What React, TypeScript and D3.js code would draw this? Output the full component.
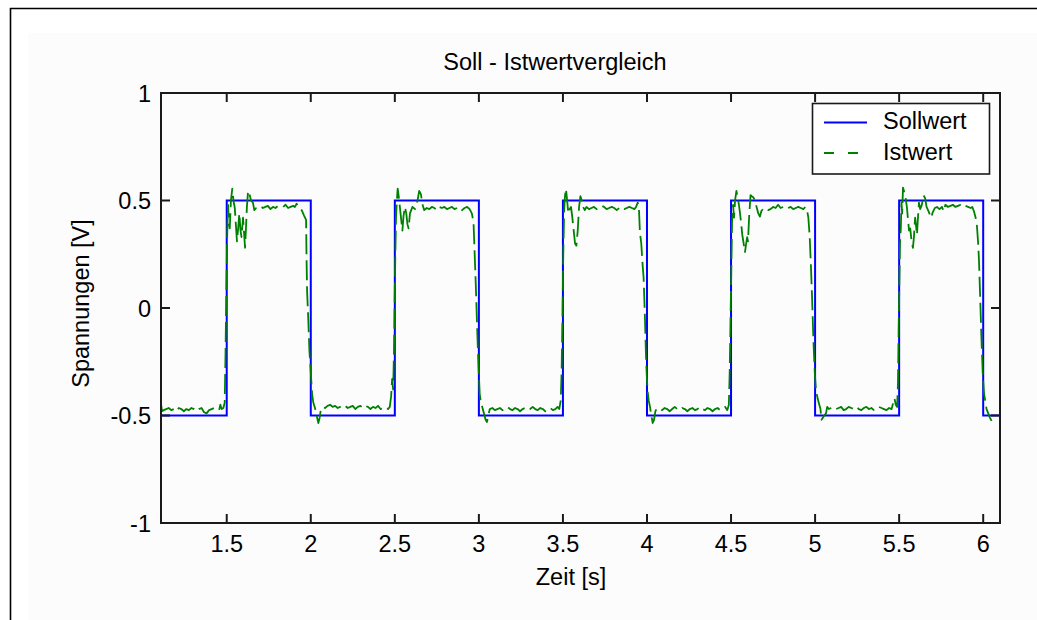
import React from "react";
import * as d3 from "d3";

// Axis setup
const xDomain: [number, number] = [1.109, 6.1];
const yDomain: [number, number] = [-1, 1];
const xTicks = [1.5, 2, 2.5, 3, 3.5, 4, 4.5, 5, 5.5, 6];
const yTicks = [-1, -0.5, 0, 0.5, 1];

// Sollwert: square wave set-point (step after each time)
const sollwertT = [1.109, 1.5, 2, 2.5, 3, 3.5, 4, 4.5, 5, 5.5, 6, 6.1];
const sollwertV = [-0.5, 0.5, -0.5, 0.5, -0.5, 0.5, -0.5, 0.5, -0.5, 0.5, -0.5, -0.5];

// Istwert: measured response, [time s, voltage V]
const istwertLow0: [number, number][] = [
  [1.11, -0.45], [1.115, -0.48], [1.125, -0.475], [1.14, -0.47], [1.155, -0.465], [1.17, -0.475],
  [1.185, -0.47], [1.2, -0.48], [1.215, -0.465], [1.23, -0.47], [1.245, -0.48], [1.26, -0.47],
  [1.275, -0.475], [1.29, -0.465], [1.305, -0.47], [1.32, -0.48], [1.335, -0.47], [1.35, -0.465],
  [1.365, -0.485], [1.38, -0.49], [1.395, -0.475], [1.41, -0.47], [1.425, -0.465], [1.44, -0.47],
  [1.455, -0.475], [1.462, -0.45], [1.47, -0.47], [1.48, -0.465], [1.488, -0.44], [1.493, -0.2],
  [1.498, 0.1],
];
const istwertHigh1: [number, number][] = [
  [1.503, 0.35], [1.508, 0.48], [1.513, 0.4], [1.518, 0.37], [1.525, 0.5], [1.533, 0.555],
  [1.54, 0.5], [1.548, 0.465], [1.555, 0.38], [1.561, 0.31], [1.568, 0.37], [1.575, 0.44],
  [1.582, 0.36], [1.588, 0.33], [1.597, 0.42], [1.603, 0.35], [1.609, 0.28], [1.615, 0.38],
  [1.62, 0.47], [1.627, 0.545], [1.635, 0.53], [1.645, 0.5], [1.656, 0.49], [1.664, 0.455],
  [1.675, 0.465], [1.69, 0.47], [1.7, 0.475], [1.715, 0.465], [1.73, 0.47], [1.745, 0.475],
  [1.76, 0.46], [1.775, 0.47], [1.79, 0.465], [1.805, 0.475], [1.82, 0.47], [1.835, 0.47],
  [1.85, 0.48], [1.865, 0.465], [1.88, 0.47], [1.895, 0.475], [1.905, 0.47], [1.916, 0.485],
  [1.925, 0.47], [1.935, 0.46], [1.946, 0.455], [1.96, 0.43], [1.972, 0.41], [1.975, 0.22],
  [1.978, 0.08], [1.985, -0.05], [1.992, -0.2], [2.0, -0.3],
];
const istwertLow2: [number, number][] = [
  [2.008, -0.4], [2.015, -0.44], [2.025, -0.465], [2.035, -0.5], [2.045, -0.535], [2.053, -0.51],
  [2.06, -0.47], [2.07, -0.46], [2.085, -0.465], [2.1, -0.455], [2.115, -0.45], [2.13, -0.46],
  [2.145, -0.455], [2.16, -0.465], [2.175, -0.46], [2.19, -0.45], [2.205, -0.455], [2.22, -0.465],
  [2.235, -0.46], [2.25, -0.455], [2.265, -0.47], [2.28, -0.46], [2.295, -0.455], [2.31, -0.465],
  [2.325, -0.455], [2.34, -0.46], [2.355, -0.47], [2.37, -0.46], [2.385, -0.465], [2.4, -0.455],
  [2.415, -0.47], [2.43, -0.465], [2.445, -0.46], [2.46, -0.47], [2.47, -0.46], [2.478, -0.41],
  [2.484, -0.33], [2.49, -0.38], [2.495, -0.2], [2.499, 0.05],
];
const istwertHigh2: [number, number][] = [
  [2.503, 0.25], [2.507, 0.42], [2.512, 0.5], [2.517, 0.555], [2.523, 0.52], [2.53, 0.47],
  [2.538, 0.41], [2.545, 0.36], [2.552, 0.43], [2.56, 0.47], [2.568, 0.44], [2.575, 0.39],
  [2.582, 0.37], [2.59, 0.44], [2.605, 0.47], [2.62, 0.46], [2.635, 0.5], [2.645, 0.545],
  [2.655, 0.53], [2.665, 0.48], [2.675, 0.455], [2.69, 0.465], [2.705, 0.46], [2.72, 0.47],
  [2.735, 0.465], [2.75, 0.455], [2.765, 0.47], [2.78, 0.465], [2.795, 0.47], [2.81, 0.46],
  [2.825, 0.465], [2.84, 0.47], [2.855, 0.46], [2.87, 0.465], [2.885, 0.47], [2.9, 0.455],
  [2.915, 0.465], [2.93, 0.47], [2.945, 0.46], [2.958, 0.44], [2.968, 0.4], [2.975, 0.25],
  [2.982, 0.1], [2.99, -0.1], [2.998, -0.28],
];
const istwertLow3: [number, number][] = [
  [3.005, -0.4], [3.012, -0.44], [3.02, -0.46], [3.03, -0.49], [3.04, -0.52], [3.048, -0.53],
  [3.056, -0.5], [3.065, -0.47], [3.08, -0.465], [3.095, -0.475], [3.11, -0.47], [3.125, -0.465],
  [3.14, -0.475], [3.155, -0.47], [3.17, -0.46], [3.185, -0.47], [3.2, -0.475], [3.215, -0.465],
  [3.23, -0.47], [3.245, -0.48], [3.26, -0.47], [3.275, -0.465], [3.29, -0.475], [3.305, -0.47],
  [3.32, -0.46], [3.335, -0.47], [3.35, -0.475], [3.365, -0.465], [3.38, -0.47], [3.395, -0.48],
  [3.41, -0.47], [3.425, -0.465], [3.44, -0.475], [3.455, -0.47], [3.468, -0.46], [3.478, -0.47],
  [3.487, -0.43], [3.492, -0.3], [3.497, -0.05],
];
const istwertHigh3: [number, number][] = [
  [3.502, 0.25], [3.507, 0.45], [3.512, 0.52], [3.518, 0.555], [3.525, 0.5], [3.532, 0.44],
  [3.54, 0.46], [3.548, 0.47], [3.556, 0.42], [3.564, 0.36], [3.572, 0.3], [3.58, 0.29],
  [3.588, 0.36], [3.596, 0.47], [3.604, 0.52], [3.612, 0.5], [3.62, 0.47], [3.63, 0.455],
  [3.64, 0.47], [3.655, 0.46], [3.67, 0.465], [3.685, 0.47], [3.7, 0.46], [3.715, 0.465],
  [3.73, 0.475], [3.745, 0.47], [3.76, 0.46], [3.775, 0.465], [3.79, 0.47], [3.805, 0.465],
  [3.82, 0.455], [3.835, 0.465], [3.85, 0.47], [3.865, 0.46], [3.88, 0.465], [3.895, 0.47],
  [3.91, 0.465], [3.925, 0.46], [3.935, 0.47], [3.945, 0.49], [3.952, 0.465], [3.958, 0.35],
  [3.966, 0.3], [3.974, 0.2], [3.98, 0.14], [3.988, -0.05], [3.995, -0.25],
];
const istwertLow4: [number, number][] = [
  [4.003, -0.38], [4.01, -0.43], [4.018, -0.46], [4.026, -0.5], [4.034, -0.535], [4.042, -0.52],
  [4.05, -0.48], [4.06, -0.465], [4.075, -0.47], [4.09, -0.475], [4.105, -0.465], [4.12, -0.47],
  [4.135, -0.48], [4.15, -0.47], [4.165, -0.46], [4.18, -0.47], [4.195, -0.475], [4.21, -0.465],
  [4.225, -0.47], [4.24, -0.48], [4.255, -0.47], [4.27, -0.465], [4.285, -0.475], [4.3, -0.47],
  [4.315, -0.46], [4.33, -0.47], [4.345, -0.475], [4.36, -0.465], [4.375, -0.47], [4.39, -0.48],
  [4.405, -0.47], [4.42, -0.465], [4.435, -0.475], [4.45, -0.47], [4.465, -0.46], [4.478, -0.475],
  [4.487, -0.45], [4.492, -0.3], [4.497, -0.05],
];
const istwertHigh4: [number, number][] = [
  [4.502, 0.2], [4.506, 0.4], [4.512, 0.48], [4.518, 0.42], [4.524, 0.5], [4.532, 0.545],
  [4.538, 0.52], [4.545, 0.49], [4.552, 0.45], [4.56, 0.395], [4.567, 0.34], [4.575, 0.3],
  [4.583, 0.26], [4.59, 0.3], [4.596, 0.33], [4.601, 0.31], [4.608, 0.43], [4.616, 0.525],
  [4.623, 0.52], [4.632, 0.515], [4.643, 0.5], [4.652, 0.47], [4.662, 0.44], [4.672, 0.425],
  [4.68, 0.45], [4.69, 0.46], [4.705, 0.465], [4.72, 0.455], [4.735, 0.46], [4.75, 0.47],
  [4.765, 0.465], [4.78, 0.48], [4.795, 0.465], [4.81, 0.47], [4.825, 0.46], [4.84, 0.465],
  [4.855, 0.47], [4.87, 0.46], [4.885, 0.465], [4.9, 0.47], [4.915, 0.465], [4.93, 0.46],
  [4.942, 0.47], [4.952, 0.455], [4.96, 0.42], [4.968, 0.33], [4.975, 0.2], [4.982, 0.05],
  [4.99, -0.15], [4.998, -0.3],
];
const istwertLow5: [number, number][] = [
  [5.005, -0.38], [5.015, -0.42], [5.025, -0.45], [5.032, -0.47], [5.038, -0.52], [5.046, -0.51],
  [5.055, -0.5], [5.065, -0.49], [5.072, -0.46], [5.082, -0.47], [5.095, -0.465], [5.11, -0.46],
  [5.125, -0.47], [5.14, -0.465], [5.155, -0.46], [5.17, -0.475], [5.185, -0.47], [5.2, -0.46],
  [5.215, -0.465], [5.23, -0.47], [5.245, -0.46], [5.26, -0.47], [5.275, -0.475], [5.29, -0.465],
  [5.305, -0.46], [5.32, -0.47], [5.335, -0.465], [5.35, -0.475], [5.365, -0.47], [5.38, -0.46],
  [5.395, -0.465], [5.41, -0.47], [5.425, -0.475], [5.44, -0.465], [5.455, -0.47], [5.465, -0.44],
  [5.472, -0.42], [5.48, -0.45], [5.488, -0.46], [5.493, -0.35], [5.497, -0.1],
];
const istwertHigh5: [number, number][] = [
  [5.5, 0.05], [5.505, 0.3], [5.51, 0.37], [5.514, 0.49], [5.518, 0.44], [5.523, 0.56],
  [5.53, 0.54], [5.538, 0.515], [5.546, 0.47], [5.553, 0.41], [5.559, 0.36], [5.566, 0.37],
  [5.574, 0.31], [5.582, 0.28], [5.588, 0.33], [5.595, 0.42], [5.601, 0.38], [5.606, 0.34],
  [5.612, 0.42], [5.618, 0.49], [5.625, 0.46], [5.635, 0.48], [5.645, 0.525], [5.655, 0.51],
  [5.663, 0.47], [5.672, 0.455], [5.68, 0.44], [5.69, 0.42], [5.7, 0.445], [5.712, 0.465],
  [5.725, 0.47], [5.74, 0.46], [5.755, 0.47], [5.765, 0.45], [5.775, 0.48], [5.79, 0.47],
  [5.805, 0.475], [5.82, 0.48], [5.835, 0.47], [5.85, 0.475], [5.865, 0.48], [5.88, 0.47],
  [5.895, 0.475], [5.91, 0.47], [5.925, 0.465], [5.935, 0.47], [5.945, 0.45], [5.955, 0.42],
  [5.963, 0.38], [5.97, 0.3], [5.975, 0.22], [5.982, 0.05], [5.99, -0.15], [5.997, -0.3],
];
const istwertLow6: [number, number][] = [
  [6.005, -0.4], [6.012, -0.43], [6.02, -0.47], [6.03, -0.49], [6.04, -0.51], [6.05, -0.525],
];

const istwert: [number, number][] = [
  ...istwertLow0, ...istwertHigh1, ...istwertLow2, ...istwertHigh2, ...istwertLow3,
  ...istwertHigh3, ...istwertLow4, ...istwertHigh4, ...istwertLow5, ...istwertHigh5,
  ...istwertLow6,
];

const W = 1037;
const H = 620;
const plot = { left: 161, right: 1000, top: 93, bottom: 523 };
const TICK = 9;
const FONT = "'Liberation Sans', Arial, Helvetica, sans-serif";
const FS = 23.5;
const BLUE = "#0000ff";
const GREEN = "#008000";
const AXIS = "#1a1a1a";

export default function App() {
  const x = d3.scaleLinear().domain(xDomain).range([plot.left, plot.right]);
  const y = d3.scaleLinear().domain(yDomain).range([plot.bottom, plot.top]);

  const sollPts: [number, number][] = sollwertT.map((t, i) => [t, sollwertV[i]]);
  const stepLine = d3
    .line<[number, number]>()
    .x((d) => x(d[0]))
    .y((d) => y(d[1]))
    .curve(d3.curveStepAfter);
  const plainLine = d3
    .line<[number, number]>()
    .x((d) => x(d[0]))
    .y((d) => y(d[1]));

  const fmt = (v: number) => String(v);

  return (
    <svg
      width={W}
      height={H}
      style={{ position: "fixed", left: 0, top: 0, background: "#ffffff" }}
      fontFamily={FONT}
    >
      <defs>
        <clipPath id="plotClip">
          <rect x={plot.left} y={plot.top} width={plot.right - plot.left} height={plot.bottom - plot.top} />
        </clipPath>
      </defs>

      {/* figure window */}
      <rect x={0} y={0} width={W} height={H} fill="#ffffff" />
      <rect x={28} y={33} width={W - 28} height={H - 33} fill="#fcfcfc" />
      <line x1={10} y1={8.5} x2={W} y2={8.5} stroke="#000" strokeWidth={1.6} />
      <line x1={10.5} y1={8} x2={10.5} y2={H} stroke="#000" strokeWidth={1.6} />

      {/* data */}
      <g clipPath="url(#plotClip)">
        <path d={stepLine(sollPts) || ""} fill="none" stroke={BLUE} strokeWidth={2} />
        <path
          d={plainLine(istwert) || ""}
          fill="none"
          stroke={GREEN}
          strokeWidth={1.8}
          strokeDasharray="20,6"
          strokeLinejoin="round"
        />
      </g>

      {/* axes box */}
      <rect
        x={plot.left}
        y={plot.top}
        width={plot.right - plot.left}
        height={plot.bottom - plot.top}
        fill="none"
        stroke={AXIS}
        strokeWidth={2}
      />

      {/* x ticks */}
      {xTicks.map((t) => (
        <g key={"xt" + t}>
          <line x1={x(t)} x2={x(t)} y1={plot.bottom} y2={plot.bottom - TICK} stroke={AXIS} strokeWidth={2} />
          <line x1={x(t)} x2={x(t)} y1={plot.top} y2={plot.top + TICK} stroke={AXIS} strokeWidth={2} />
          <text x={x(t)} y={552} textAnchor="middle" fontSize={FS} fill="#000">
            {fmt(t)}
          </text>
        </g>
      ))}

      {/* y ticks */}
      {yTicks.map((v) => (
        <g key={"yt" + v}>
          <line x1={plot.left} x2={plot.left + TICK} y1={y(v)} y2={y(v)} stroke={AXIS} strokeWidth={2} />
          <line x1={plot.right} x2={plot.right - TICK} y1={y(v)} y2={y(v)} stroke={AXIS} strokeWidth={2} />
          <text x={151} y={y(v) + 8.5} textAnchor="end" fontSize={FS} fill="#000">
            {fmt(v)}
          </text>
        </g>
      ))}

      {/* titles */}
      <text x={555} y={70} textAnchor="middle" fontSize={FS} fill="#000">
        Soll - Istwertvergleich
      </text>
      <text x={571} y={585} textAnchor="middle" fontSize={FS} fill="#000">
        Zeit [s]
      </text>
      <text transform="translate(89,303.5) rotate(-90)" textAnchor="middle" fontSize={FS} fill="#000">
        Spannungen [V]
      </text>

      {/* legend */}
      <rect x={812.5} y={103.5} width={177} height={70.5} fill="#ffffff" stroke={AXIS} strokeWidth={1.6} />
      <line x1={824} x2={867} y1={122.5} y2={122.5} stroke={BLUE} strokeWidth={2} />
      <text x={883} y={128.5} fontSize={FS} fill="#000">
        Sollwert
      </text>
      <line x1={824} x2={867} y1={153} y2={153} stroke={GREEN} strokeWidth={2} strokeDasharray="10,14" />
      <text x={883} y={160} fontSize={FS} fill="#000">
        Istwert
      </text>
    </svg>
  );
}
